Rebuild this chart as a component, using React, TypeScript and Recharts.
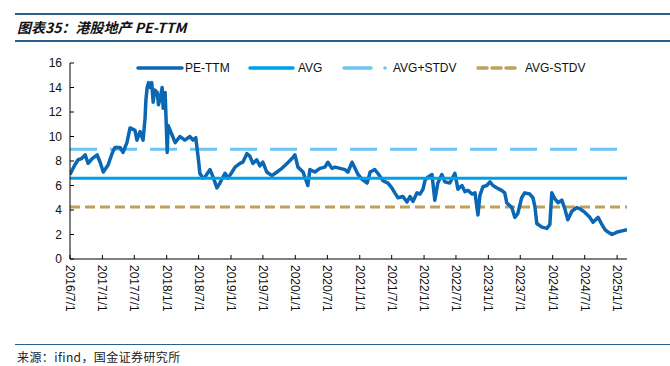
import React from "react"
import {
  LineChart,
  Line,
  XAxis,
  YAxis,
  ReferenceLine,
} from "recharts"

// PE-TTM readings (date, value)
const DATES = [
  "2016-07-01", "2016-07-15", "2016-07-29", "2016-08-16", "2016-09-05", "2016-09-25",
  "2016-10-12", "2016-11-04", "2016-12-02", "2016-12-19", "2017-01-06", "2017-02-03",
  "2017-02-26", "2017-03-13", "2017-04-11", "2017-04-28", "2017-05-20", "2017-06-07",
  "2017-07-05", "2017-07-16", "2017-08-03", "2017-08-20", "2017-08-31", "2017-09-05",
  "2017-09-12", "2017-09-20", "2017-09-29", "2017-10-08", "2017-10-16", "2017-10-25",
  "2017-11-08", "2017-11-15", "2017-11-25", "2017-12-06", "2017-12-12",
  "2017-12-23", "2018-01-04", "2018-01-09", "2018-02-01", "2018-02-18", "2018-03-17",
  "2018-04-14", "2018-05-13", "2018-05-30", "2018-06-15", "2018-07-01", "2018-07-08",
  "2018-07-25", "2018-08-06", "2018-09-04", "2018-09-21", "2018-10-13", "2018-10-30",
  "2018-11-28", "2018-12-15", "2019-01-07", "2019-01-24", "2019-02-21", "2019-03-09",
  "2019-04-01", "2019-04-18", "2019-05-05", "2019-05-27", "2019-06-14", "2019-07-01",
  "2019-07-23", "2019-08-21", "2019-09-19", "2019-10-17", "2019-11-15", "2019-12-13",
  "2019-12-30", "2020-01-16", "2020-02-14", "2020-03-12", "2020-03-24", "2020-04-21",
  "2020-05-20", "2020-06-17", "2020-07-04", "2020-07-27", "2020-08-13", "2020-09-11",
  "2020-10-09", "2020-10-26", "2020-11-18", "2020-12-05", "2020-12-22", "2021-01-14",
  "2021-02-12", "2021-03-01", "2021-03-27", "2021-04-13", "2021-05-12", "2021-06-10",
  "2021-07-02", "2021-07-19", "2021-08-06", "2021-09-03", "2021-09-26", "2021-10-13",
  "2021-10-30", "2021-11-22", "2021-12-09", "2021-12-26", "2022-01-07", "2022-01-24",
  "2022-02-15", "2022-03-03", "2022-03-20", "2022-04-12", "2022-04-29", "2022-05-27",
  "2022-06-25", "2022-07-12", "2022-08-04", "2022-08-21", "2022-09-07", "2022-09-30",
  "2022-10-17", "2022-11-03", "2022-11-14", "2022-12-01", "2022-12-23", "2023-01-10",
  "2023-01-27", "2023-02-19", "2023-03-17", "2023-04-04", "2023-04-15", "2023-05-14",
  "2023-05-31", "2023-06-17", "2023-07-09", "2023-07-26", "2023-08-24", "2023-09-11",
  "2023-09-22", "2023-10-03", "2023-11-01", "2023-11-29", "2023-12-16", "2023-12-27",
  "2024-01-14", "2024-01-31", "2024-02-22", "2024-03-10", "2024-03-27", "2024-04-19",
  "2024-05-17", "2024-06-04", "2024-07-02", "2024-07-30", "2024-08-17", "2024-09-15",
  "2024-10-07", "2024-10-24", "2024-11-10", "2024-12-03", "2025-01-01", "2025-01-29",
  "2025-02-26",
]

const PE_TTM = [
  6.9, 7.3, 7.7, 8.1, 8.2, 8.5,
  7.8, 8.2, 8.5, 7.9, 7.1, 7.7,
  8.65, 9.1, 9.1, 8.7, 9.5, 10.7,
  10.5, 9.7, 10.4, 9.7, 11.5, 13.0,
  14.0, 14.4, 14.0, 14.4, 12.8, 13.8,
  13.6, 12.6, 13.1, 14.0, 12.3,
  13.6, 8.7, 10.9, 10.1, 9.5, 10.0,
  9.7, 10.0, 9.7, 9.9, 8.0, 7.0,
  6.6, 6.7, 7.3, 6.7, 5.8, 6.2,
  7.0, 6.6, 7.1, 7.5, 7.8, 7.9,
  8.6, 8.4, 7.8, 8.1, 7.6, 7.9,
  7.1, 6.8, 7.1, 7.4, 7.8, 8.2,
  8.5, 7.5, 7.1, 6.0, 7.3, 7.1,
  7.4, 7.5, 7.9, 7.4, 7.5, 7.4,
  7.3, 7.1, 7.9, 7.4, 6.9, 6.5,
  6.2, 7.1, 7.3, 7.0, 6.4, 6.2,
  5.8, 5.4, 5.0, 5.1, 4.65, 5.1,
  4.7, 5.4, 5.3, 5.7, 6.45, 6.7,
  6.9, 4.8, 6.2, 6.9, 6.3, 6.2,
  7.0, 5.7, 6.0, 5.5, 5.6, 5.3,
  5.4, 3.6, 5.2, 5.9, 6.0, 6.3,
  6.0, 5.8, 5.6, 5.4, 4.6, 4.2,
  3.4, 3.7, 5.0, 5.4, 5.3, 5.0,
  4.3, 2.9, 2.6, 2.5, 2.8, 5.4,
  4.9, 4.6, 4.8, 4.1, 3.2, 3.9,
  4.2, 4.1, 3.8, 3.4, 3.0, 3.4,
  2.8, 2.4, 2.2, 2.0, 2.2, 2.3,
  2.4,
]

const AVG = 6.6
const AVG_PLUS_STDV = 8.95
const AVG_MINUS_STDV = 4.25

const X_TICK_LABELS = [
  "2016/7/1", "2017/1/1", "2017/7/1", "2018/1/1", "2018/7/1", "2019/1/1",
  "2019/7/1", "2020/1/1", "2020/7/1", "2021/1/1", "2021/7/1", "2022/1/1",
  "2022/7/1", "2023/1/1", "2023/7/1", "2024/1/1", "2024/7/1", "2025/1/1",
]
const Y_TICKS = [0, 2, 4, 6, 8, 10, 12, 14, 16]

// Colors
const PE_COLOR = "#0a67b3"
const AVG_COLOR = "#00a0e9"
const PLUS_COLOR = "#6cc6f3"
const MINUS_COLOR = "#c3a05a"
const RULE_COLOR = "#2b5f8c"
const FONT = "'Liberation Sans', Arial, sans-serif"

function toTime(s: string) {
  const [y, m, d] = s.split(/[-/]/).map(Number)
  return Date.UTC(y, m - 1, d)
}

const chartData = DATES.map((d, i) => ({ t: toTime(d), pe: PE_TTM[i] }))
const xTicks = X_TICK_LABELS.map(toTime)
const labelByTime: Record<number, string> = {}
X_TICK_LABELS.forEach((l) => (labelByTime[toTime(l)] = l))

function XTick(props: any) {
  const { x, y, payload } = props
  return (
    <text
      x={x}
      y={y}
      transform={`rotate(90 ${x} ${y})`}
      textAnchor="start"
      dominantBaseline="central"
      fontSize={12}
      fontFamily={FONT}
      fill="#111"
    >
      {labelByTime[payload.value]}
    </text>
  )
}

function LegendOverlay() {
  const y = 68
  const textProps = { fontSize: 12, fontFamily: FONT, fill: "#111", dominantBaseline: "central" as const }
  return (
    <svg width={670} height={30} style={{ position: "absolute", left: 0, top: y - 15 }}>
      <g transform="translate(0,15)">
        <line x1={138} x2={182} y1={0} y2={0} stroke={PE_COLOR} strokeWidth={3.5} strokeLinecap="round" />
        <text x={185} y={0} {...textProps}>PE-TTM</text>
        <line x1={250} x2={293} y1={0} y2={0} stroke={AVG_COLOR} strokeWidth={3.5} strokeLinecap="round" />
        <text x={298} y={0} {...textProps}>AVG</text>
        <line x1={344} x2={371} y1={0} y2={0} stroke={PLUS_COLOR} strokeWidth={3.5} strokeLinecap="round" />
        <circle cx={385} cy={0} r={1.8} fill={PLUS_COLOR} />
        <text x={393} y={0} {...textProps}>AVG+STDV</text>
        <line
          x1={478}
          x2={515}
          y1={0}
          y2={0}
          stroke={MINUS_COLOR}
          strokeWidth={3.5}
          strokeDasharray="9 5"
          strokeLinecap="round"
        />
        <text x={525} y={0} {...textProps}>AVG-STDV</text>
      </g>
    </svg>
  )
}

export default function App() {
  return (
    <div
      style={{
        position: "absolute",
        left: 0,
        top: 0,
        width: 670,
        height: 366,
        background: "#fff",
        overflow: "hidden",
      }}
    >
      {/* Header */}
      <div style={{ position: "absolute", left: 15, right: 0, top: 13, borderTop: `2px solid ${RULE_COLOR}` }} />
      <div
        style={{
          position: "absolute",
          left: 17,
          top: 17,
          fontFamily: "'Noto Sans CJK SC', sans-serif",
          fontStyle: "italic",
          fontWeight: 700,
          fontSize: 14,
          color: "#111",
          whiteSpace: "nowrap",
        }}
      >
        图表35：港股地产 PE-TTM
      </div>
      <div style={{ position: "absolute", left: 15, right: 0, top: 40, borderTop: `2px solid ${RULE_COLOR}` }} />

      <div style={{ position: "absolute", left: 0, top: 0 }}>
        <LineChart
          width={670}
          height={366}
          data={chartData}
          margin={{ top: 63, right: 43, bottom: 47, left: 10 }}
        >
          <XAxis
            type="number"
            dataKey="t"
            domain={[toTime(DATES[0]), toTime(DATES[DATES.length - 1])]}
            ticks={xTicks}
            interval={0}
            height={60}
            tick={<XTick />}
            tickSize={-4}
            tickMargin={10}
            axisLine={{ stroke: "#000", strokeWidth: 1 }}
            tickLine={{ stroke: "#000", strokeWidth: 1 }}
            allowDataOverflow
          />
          <YAxis
            type="number"
            domain={[0, 16]}
            ticks={Y_TICKS}
            interval={0}
            width={60}
            tickSize={-4}
            tickMargin={12}
            tick={{ fontSize: 12, fontFamily: FONT, fill: "#111" }}
            axisLine={{ stroke: "#000", strokeWidth: 1 }}
            tickLine={{ stroke: "#000", strokeWidth: 1 }}
          />
          <ReferenceLine y={AVG_PLUS_STDV} stroke={PLUS_COLOR} strokeWidth={3} strokeDasharray="27 13" />
          <ReferenceLine y={AVG_MINUS_STDV} stroke={MINUS_COLOR} strokeWidth={3} strokeDasharray="10 5" />
          <Line
            type="linear"
            dataKey="pe"
            stroke={PE_COLOR}
            strokeWidth={3.5}
            strokeLinejoin="round"
            dot={false}
            isAnimationActive={false}
          />
          <ReferenceLine y={AVG} stroke={AVG_COLOR} strokeWidth={3} ifOverflow="visible" />
        </LineChart>
      </div>

      <LegendOverlay />

      {/* Footer */}
      <div style={{ position: "absolute", left: 15, right: 0, top: 344, borderTop: `1.5px solid ${RULE_COLOR}` }} />
      <div
        style={{
          position: "absolute",
          left: 17,
          top: 348,
          fontFamily: "'Noto Sans CJK SC', sans-serif",
          fontSize: 12,
          letterSpacing: 0.4,
          color: "#222",
          whiteSpace: "nowrap",
        }}
      >
        来源：ifind，国金证券研究所
      </div>
    </div>
  )
}
